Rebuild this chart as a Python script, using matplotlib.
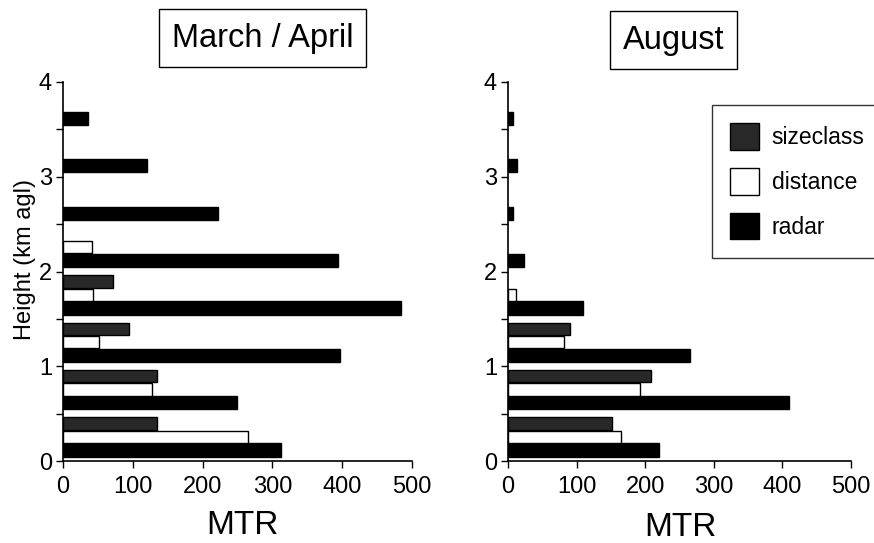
import numpy as np
import matplotlib
matplotlib.use("Agg")
import matplotlib.pyplot as plt
from matplotlib.patches import Patch

plt.rcParams['font.family'] = ['Liberation Sans', 'DejaVu Sans']

# Height bins (lower edge, km agl)
bins = [0.0, 0.5, 1.0, 1.5, 2.0, 2.5, 3.0, 3.5]

# March / April MTR
mar_radar = [312, 249, 397, 484, 394, 222, 120, 36]
mar_distance = [265, 128, 52, 43, 41, 0, 0, 0]
mar_sizeclass = [134, 135, 94, 71, 0, 0, 0, 0]

# August MTR
aug_radar = [220, 410, 266, 109, 23, 8, 13, 7]
aug_distance = [164, 192, 81, 12, 0, 0, 0, 0]
aug_sizeclass = [151, 208, 91, 0, 0, 0, 0, 0]

titles = ["March / April", "August"]
xticks = [0, 100, 200, 300, 400, 500]
yticks = [0, 1, 2, 3, 4]
series_names = ["sizeclass", "distance", "radar"]

SIZE_COLOR = "#282828"

fig = plt.figure(figsize=(8.74, 5.43), dpi=100)
W, H = 874, 543
ax1 = fig.add_axes([63 / W, 1 - 461 / H, (412 - 63) / W, (461 - 82) / H])
ax2 = fig.add_axes([508 / W, 1 - 461 / H, (851 - 508) / W, (461 - 82) / H])

datasets = [(mar_radar, mar_distance, mar_sizeclass),
            (aug_radar, aug_distance, aug_sizeclass)]

for ax, (radar, dist, size) in zip([ax1, ax2], datasets):
    b = np.array(bins)
    r = np.array(radar, float)
    d = np.array(dist, float)
    s = np.array(size, float)
    m = r > 0
    ax.barh(b[m] + 0.115, r[m], height=0.14, color="black",
            edgecolor="black", linewidth=1)
    m = d > 0
    ax.barh(b[m] + 0.255, d[m], height=0.13, color="white",
            edgecolor="black", linewidth=1)
    m = s > 0
    ax.barh(b[m] + 0.395, s[m], height=0.13, color=SIZE_COLOR,
            edgecolor="black", linewidth=1)
    ax.set_xlim(0, 500)
    ax.set_ylim(0, 4)
    ax.set_xticks(xticks)
    ax.set_yticks(yticks)
    ax.set_yticks([0.5, 1.5, 2.5, 3.5], minor=True)
    ax.tick_params(axis="both", which="both", direction="out", length=5,
                   width=1, labelsize=17, pad=3)
    ax.tick_params(axis="x", pad=6)
    for sp in ["top", "right"]:
        ax.spines[sp].set_visible(False)
    for sp in ["left", "bottom"]:
        ax.spines[sp].set_linewidth(1.2)

# Boxed titles
fig.text(262.5 / W, 1 - 38 / H, titles[0], ha="center", va="center",
         fontsize=23.5, bbox=dict(boxstyle="square,pad=0.4", fc="white",
                                  ec="black", lw=1))
fig.text(673.5 / W, 1 - 40 / H, titles[1], ha="center", va="center",
         fontsize=23.5, bbox=dict(boxstyle="square,pad=0.4", fc="white",
                                  ec="black", lw=1))

# X labels
fig.text(242 / W, 1 - 526 / H, "MTR", ha="center", va="center", fontsize=24)
fig.text(680 / W, 1 - 528 / H, "MTR", ha="center", va="center", fontsize=24)

# Y label
fig.text(25 / W, 1 - 260 / H, "Height (km agl)", ha="center", va="center",
         rotation=90, fontsize=17)

# Legend
handles = [Patch(facecolor=SIZE_COLOR, edgecolor="black", label=series_names[0]),
           Patch(facecolor="white", edgecolor="black", label=series_names[1]),
           Patch(facecolor="black", edgecolor="black", label=series_names[2])]
leg = fig.legend(handles=handles, loc="upper left",
                 bbox_to_anchor=(712 / W, 1 - 105 / H),
                 bbox_transform=fig.transFigure,
                 fontsize=16.5, frameon=True, fancybox=False,
                 handlelength=1.26, handleheight=1.4, labelspacing=0.8,
                 handletextpad=0.55, borderpad=0.8, borderaxespad=0)
leg.get_frame().set_edgecolor("black")
leg.get_frame().set_linewidth(1)

fig.savefig("out.png", dpi=100)
